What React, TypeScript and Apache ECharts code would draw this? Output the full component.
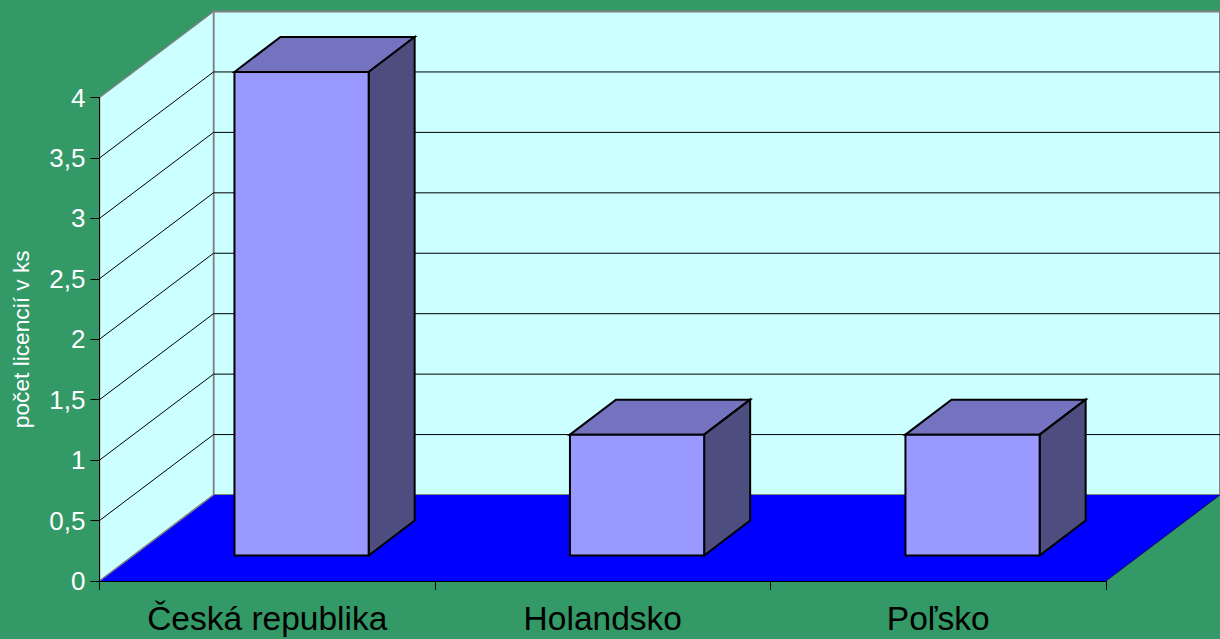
import React, { useEffect, useRef } from "react";
import * as echarts from "echarts";

const categories = ["Česká republika", "Holandsko", "Poľsko"];
const licences = [4, 1, 1];
const gridValues = [0.5, 1, 1.5, 2, 2.5, 3, 3.5];
const yAxisTitle = "počet licencií v ks";

const GREEN = "#339966";
const WALL = "#CCFFFF";
const FLOOR = "#0000FF";
const EDGE = "#808080";
const FRONT = "#9999FF";
const TOP = "#7373BF";
const SIDE = "#4D4D80";

// oblique projection: depth of the room, and of a bar
const ROOM_DX = 114;
const ROOM_DY = -86;
const BAR_DX = 46;
const BAR_DY = -35;
const BAR_SHIFT_X = 34.3;
const BAR_SHIFT_Y = -25.5;
const BAR_WIDTH_RATIO = 0.4;

function polygon(points: number[][], fill: string, stroke?: string, lineWidth = 1) {
  return {
    type: "polygon",
    shape: { points },
    style: { fill, stroke: stroke || "none", lineWidth, lineJoin: "miter" },
  };
}

function renderBackWall(params: any) {
  const c = params.coordSys;
  const l = c.x, r = c.x + c.width, t = c.y, b = c.y + c.height;
  return {
    type: "group",
    children: [
      polygon(
        [
          [l + ROOM_DX, t + ROOM_DY],
          [r + ROOM_DX, t + ROOM_DY],
          [r + ROOM_DX, b + ROOM_DY],
          [l + ROOM_DX, b + ROOM_DY],
        ],
        WALL,
        EDGE,
        2
      ),
      polygon(
        [
          [l, t],
          [l + ROOM_DX, t + ROOM_DY],
          [l + ROOM_DX, b + ROOM_DY],
          [l, b],
        ],
        WALL,
        EDGE,
        1.5
      ),
      polygon(
        [
          [l, b],
          [l + ROOM_DX, b + ROOM_DY],
          [r + ROOM_DX, b + ROOM_DY],
          [r, b],
        ],
        FLOOR
      ),
      {
        type: "line",
        shape: { x1: l, y1: b, x2: l + ROOM_DX, y2: b + ROOM_DY },
        style: { stroke: EDGE, lineWidth: 1.5 },
      },
      {
        type: "line",
        shape: { x1: r, y1: b, x2: r + ROOM_DX, y2: b + ROOM_DY },
        style: { stroke: "#000000", lineWidth: 0.6 },
      },
    ],
  };
}

function renderGridLine(params: any, api: any) {
  const c = params.coordSys;
  const y = api.coord([0, api.value(0)])[1];
  const l = c.x;
  const r = c.x + c.width;
  return {
    type: "polyline",
    shape: {
      points: [
        [l, y],
        [l + ROOM_DX, y + ROOM_DY],
        [r + ROOM_DX, y + ROOM_DY],
      ],
    },
    style: { stroke: "#000000", lineWidth: 1, fill: "none" },
  };
}

function renderBar(params: any, api: any) {
  const idx = api.value(0);
  const top = api.coord([idx, api.value(1)]);
  const base = api.coord([idx, 0]);
  const w = api.size([1, 0])[0] * BAR_WIDTH_RATIO;
  const x0 = top[0] + BAR_SHIFT_X - w / 2;
  const x1 = x0 + w;
  const yt = top[1] + BAR_SHIFT_Y;
  const yb = base[1] + BAR_SHIFT_Y;
  const stroke = "#000000";
  return {
    type: "group",
    children: [
      polygon(
        [
          [x0, yt],
          [x0 + BAR_DX, yt + BAR_DY],
          [x1 + BAR_DX, yt + BAR_DY],
          [x1, yt],
        ],
        TOP,
        stroke,
        2
      ),
      polygon(
        [
          [x1, yt],
          [x1 + BAR_DX, yt + BAR_DY],
          [x1 + BAR_DX, yb + BAR_DY],
          [x1, yb],
        ],
        SIDE,
        stroke,
        2
      ),
      polygon(
        [
          [x0, yt],
          [x1, yt],
          [x1, yb],
          [x0, yb],
        ],
        FRONT,
        stroke,
        2
      ),
    ],
  };
}

export default function App() {
  const ref = useRef<HTMLDivElement>(null);
  useEffect(() => {
    document.body.style.margin = "0";
    document.body.style.overflow = "hidden";
    const chart = echarts.init(ref.current!, undefined, { renderer: "svg" });
    chart.setOption({
      animation: false,
      backgroundColor: GREEN,
      textStyle: { fontFamily: "'Liberation Sans', Arial, sans-serif" },
      grid: { left: 99.5, top: 97.5, width: 1006.5, height: 483.5, containLabel: false, outerBoundsMode: "none" },
      xAxis: {
        type: "category",
        data: categories,
        z: 5,
        axisLine: { show: true, onZero: false, lineStyle: { color: "#000000", width: 1 } },
        axisTick: { show: true, length: 9, alignWithLabel: false, lineStyle: { color: "#000000" } },
        axisLabel: { color: "#000000", fontSize: 33.5, margin: 20.5, interval: 0 },
        splitLine: { show: false },
      },
      yAxis: {
        type: "value",
        min: 0,
        max: 4,
        interval: 0.5,
        z: 5,
        name: yAxisTitle,
        nameLocation: "middle",
        nameRotate: 90,
        nameGap: 67,
        nameTextStyle: { color: "#FFFFFF", fontSize: 22.7 },
        axisLine: { show: true, lineStyle: { color: "#000000", width: 1 } },
        axisTick: { show: true, length: 9, lineStyle: { color: "#000000" } },
        axisLabel: {
          color: "#FFFFFF",
          fontSize: 26,
          margin: 14,
          formatter: (v: number) => String(v).replace(".", ","),
        },
        splitLine: { show: false },
      },
      series: [
        {
          type: "custom",
          name: "room",
          z: 1,
          silent: true,
          renderItem: renderBackWall,
          data: [[0]],
        },
        {
          type: "custom",
          name: "gridlines",
          z: 1,
          silent: true,
          renderItem: renderGridLine,
          encode: { y: 0 },
          data: gridValues.map((v) => [v]),
        },
        {
          type: "custom",
          name: "licence",
          z: 2,
          renderItem: renderBar,
          encode: { x: 0, y: 1 },
          data: licences.map((v, i) => [i, v]),
        },
      ],
    });
    return () => chart.dispose();
  }, []);
  return <div ref={ref} style={{ position: "fixed", left: 0, top: 0, width: 1220, height: 639 }} />;
}
